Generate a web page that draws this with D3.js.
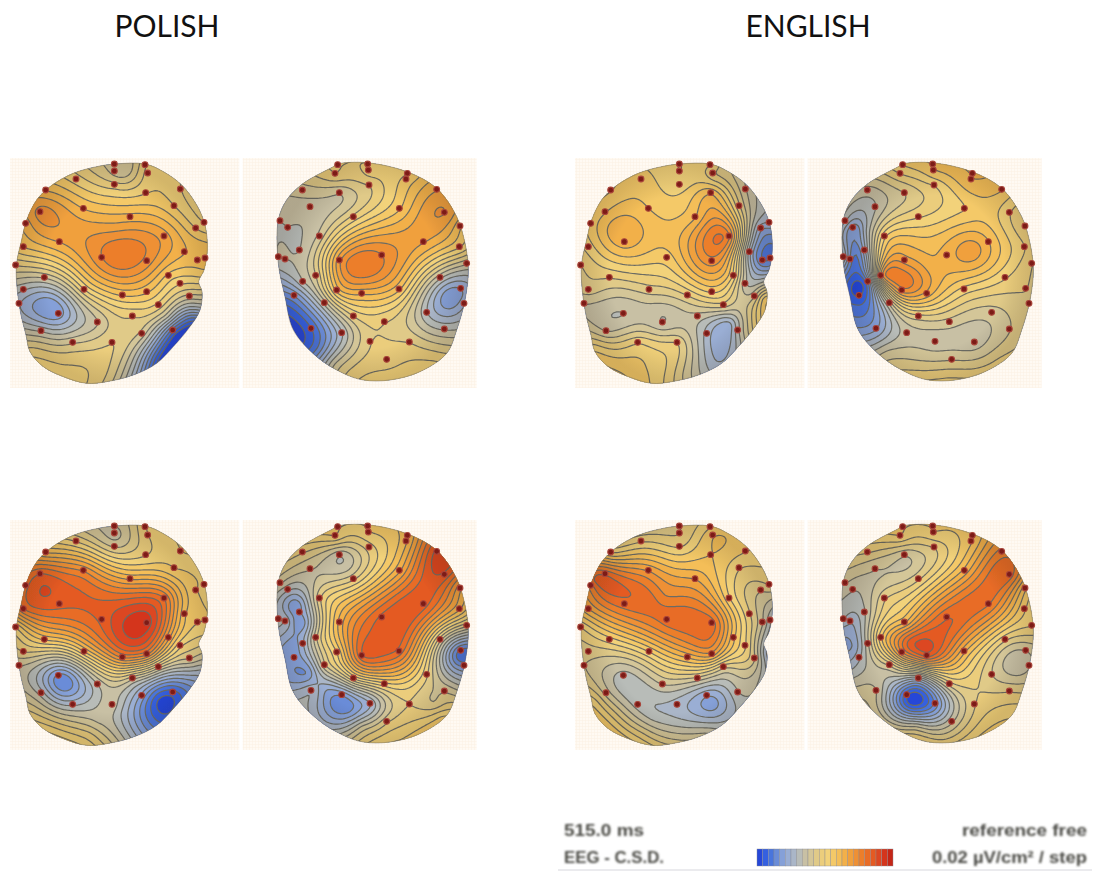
<!DOCTYPE html>
<meta charset="utf-8">
<script src="https://cdnjs.cloudflare.com/ajax/libs/d3/7.8.5/d3.min.js"></script>
<style>
body { margin: 0; background: #fff; }
</style>
<body>
<script>
// width and height
var w = 1098;
var h = 872;

// all head data is in "crop units": 490px of page = 1470 units
var cropW = 1470;
var cropH = 735;
var cellSize = 6;

// titles and footer text
var titles = ["POLISH", "ENGLISH"];
var footerLeft = ["515.0 ms", "EEG - C.S.D."];
var footerRight = ["reference free", "0.02 \u00b5V/cm\u00b2 / step"];

// one colour per step, blue (low) to red (high)
var stepColors = ["#2546d8", "#3560e0", "#4a74dc", "#6a8cd8", "#85a0d8", "#9aaed4", "#aab6c8", "#b8bcb8",
  "#c8c0a4", "#d4c698", "#e0ca88", "#ebcd7c", "#f2d27a", "#f4c968", "#f4be58", "#f2b04a",
  "#f0a03e", "#ee9034", "#ec7e2c", "#e86c26", "#e45a22", "#dc4620", "#d4341c", "#c42618"];

// scalp outlines
var leftOutline = [[345,42],[435,42],[490,65],[545,105],[590,165],[615,225],[622,300],[612,360],[596,395],[606,425],[600,480],[570,530],[520,590],[470,640],[400,675],[320,695],[260,700],[190,680],[130,650],[90,605],[78,555],[62,490],[50,400],[50,340],[65,270],[80,210],[110,150],[150,110],[220,70],[290,50]];
var rightOutline = [[1013,42],[1100,38],[1220,65],[1310,115],[1370,200],[1395,280],[1405,360],[1395,450],[1370,540],[1340,610],[1260,665],[1170,690],[1090,690],[1030,670],[950,620],[880,540],[855,440],[835,340],[835,210],[860,150],[910,100],[1000,50]];

// electrode sites
var leftSites = [[343,42],[435,44],[343,63],[443,69],[228,87],[343,103],[437,128],[541,117],[137,120],[522,167],[120,185],[250,175],[390,200],[77,220],[612,217],[587,234],[492,258],[178,275],[70,290],[553,305],[305,322],[440,332],[592,330],[615,324],[47,345],[505,376],[133,382],[540,400],[252,418],[367,435],[440,425],[70,418],[568,438],[57,460],[475,464],[175,490],[397,498],[292,516],[123,542],[425,550],[518,540],[218,577],[336,577]];
var rightSites = [[1013,44],[1103,42],[1005,70],[1105,60],[1222,70],[1107,105],[1218,87],[1018,128],[907,120],[1310,118],[930,170],[1198,175],[1333,187],[1060,200],[840,212],[863,232],[1380,228],[958,258],[1270,275],[1378,290],[898,300],[835,320],[855,327],[1018,330],[1145,315],[1400,340],[947,376],[908,394],[1320,382],[1010,420],[1085,430],[1197,417],[1382,415],[882,436],[973,458],[1392,460],[1060,498],[1280,487],[1153,515],[1333,537],[933,535],[1025,548],[1110,574],[1228,576],[1160,628]];

// step read at each electrode, same order as the sites
var polishA = [9.5,12,9.5,12.5,12.5,11.5,13,12,15,13,17.5,15,15.5,15.5,12,13,16.5,16,14,15,18,17.5,14.5,15,11,13.5,9,12,12,14,14,7,9.5,6,11.5,4.5,11,9,8,9.5,2,10,11];
var polishB = [12,12,12,12.5,13,11,13.5,9,9.5,16,8.5,14,17,11.5,8,8,14,9.5,16,13,8,8,8,17,18,9,10,8,8,14.5,15,14,5,4,8.5,6,11,7,11,8,2,7,11,11,11.5];
var englishA = [12,12,12,11,13.5,12.5,15,9,13,11,14,14,15,13.5,6,5,18,15.5,12.5,6,13.5,17.5,3,3,11,12.5,11,8,10.5,11,13,10.5,10,9,10.5,8,8.5,8,9,6.5,8,12,11];
var englishB = [13,14,12,14,15,12,15,10,8.5,14,8,13,12,12,7,4,11,13,15,12,6,7,3,16.5,15.5,11,17,3,12,17.5,15.5,12.5,11,1,9.5,11,10.5,9.5,9.5,10,5,8.5,8.5,8.5,10];
var polishC = [9,12,8.5,12,12,10,12,13,15,13,20.2,18,16,19.8,13,13,19,20.3,19,14,20.3,22.5,13,13,13,16,14,12,14,18,18,11,10,9,10,3.5,9,8,7.5,4.5,1.5,7,8.5];
var polishD = [13,13,13,13,15,11.5,15,8,11,21.5,9,16,20.6,11,9,7,16,11,20.4,15,5,7,7,15.5,20.4,10,10,6,10,13,20,19.5,2.5,4.5,10,4,12,11,12.5,10,7,4,6,11,11];
var englishC = [11,13,11,14,12,12,14,13,13,12,19.9,17,16,18.5,11,10,13,19.5,16,11,19.5,19.5,9,7,12,14,12.5,12,13,15,16.5,10.5,10,10,10,7.5,9.5,9,9.5,5,8,7.5,6.5];
var englishD = [13,13,13,13,14,11,14,9,11,18.5,9,15.5,19.5,11,9,8,14,11,19,13,8,7,6,15,20,12,14,9,11,18,20.3,15,9,7,10,9,6,10,10.5,11,9,1,3.5,11,9];

// extra readings between the electrodes: peaks, troughs, bottom of the scalp [x, y, step]
var polishAExtra = [[140,465,4],[355,310,19],[520,570,0],[470,630,1],[250,650,12],[180,640,12],[100,590,11],[400,650,7],[340,680,10],[600,470,7],[500,500,8],[570,500,3],[370,55,9],[340,230,16.5]];
var polishBExtra = [[1095,340,19],[1350,440,4],[905,500,2],[950,590,3],[1000,640,9],[1080,680,12],[1300,630,12]];
var englishAExtra = [[150,235,15.7],[455,280,19],[470,560,5],[490,520,5.5],[450,630,6],[380,620,9],[150,620,13],[240,650,13],[90,590,12.5],[300,650,12],[350,670,10],[590,440,13],[250,480,8.5]];
var englishBExtra = [[985,370,18.5],[1215,300,16.7],[1100,340,15.2],[1150,680,12],[1300,620,11],[960,600,9],[860,370,2],[870,460,2],[900,240,7],[870,300,3],[930,400,8],[930,300,11],[920,340,9]];
var polishCExtra = [[420,340,22.5],[380,310,22],[200,235,20.3],[300,280,20.3],[190,510,3],[480,565,0.5],[430,640,4],[350,680,9],[270,660,11],[150,640,12],[290,630,9],[600,470,7],[560,590,3],[360,600,7],[100,600,11]];
var polishDExtra = [[1130,380,20.4],[1200,270,20.4],[1320,130,22],[1040,590,3.5],[1080,640,9],[1200,680,13],[1320,610,13],[1380,430,2],[885,280,4],[900,330,4],[880,400,4.5],[920,480,4],[1300,570,10],[975,530,5]];
var englishCExtra = [[90,200,20.5],[440,575,4.5],[260,610,7.5],[150,600,11],[230,660,11],[90,560,12],[420,660,9],[600,420,6],[300,250,18],[250,260,19.5],[350,300,19.5],[400,340,19.5]];
var englishDExtra = [[1100,380,20.8],[1030,385,20.3],[1200,250,19],[1035,560,0],[860,400,5],[1050,640,9],[1250,660,13],[1000,500,7],[1360,450,8],[1130,680,11]];

var panelTop = [24, 714];
var leftBox = [30, 718];
var rightBox = [728, 1430];

// page position of each quadrant
var quadrants = [[0, 150], [565, 150], [0, 512], [565, 512]];

var heads = [
  {q: 0, side: "left", values: polishA, extra: polishAExtra},
  {q: 0, side: "right", values: polishB, extra: polishBExtra},
  {q: 1, side: "left", values: englishA, extra: englishAExtra},
  {q: 1, side: "right", values: englishB, extra: englishBExtra},
  {q: 2, side: "left", values: polishC, extra: polishCExtra},
  {q: 2, side: "right", values: polishD, extra: polishDExtra},
  {q: 3, side: "left", values: englishC, extra: englishCExtra},
  {q: 3, side: "right", values: englishD, extra: englishDExtra}
];

var svg = d3.select("body").append("svg")
  .attr("width", w)
  .attr("height", h)
  .style("display", "block");

var defs = svg.append("defs");

// the source picture is soft, so blur everything a touch
defs.append("filter").attr("id", "soft")
  .attr("x", "-5%").attr("y", "-5%").attr("width", "110%").attr("height", "110%")
  .append("feGaussianBlur").attr("stdDeviation", 0.5);

defs.append("filter").attr("id", "softer")
  .attr("x", "-5%").attr("y", "-5%").attr("width", "110%").attr("height", "110%")
  .append("feGaussianBlur").attr("stdDeviation", 0.8);

var pattern = defs.append("pattern").attr("id", "paper")
  .attr("width", 3).attr("height", 3).attr("patternUnits", "userSpaceOnUse");
pattern.append("rect").attr("width", 3).attr("height", 3).attr("fill", "#fffaf3");
pattern.append("path").attr("d", "M3 0H0V3").attr("fill", "none").attr("stroke", "#fcf1e4").attr("stroke-width", 1);

var shade = defs.append("radialGradient").attr("id", "shade");
shade.append("stop").attr("offset", "70%").attr("stop-color", "#000").attr("stop-opacity", 0);
shade.append("stop").attr("offset", "100%").attr("stop-color", "#302010").attr("stop-opacity", 0.16);

// thin plate spline through the readings, returns f(x, y)
function makeField(points) {
  var n = points.length, size = n + 3;
  var A = d3.range(size).map(function() { return new Float64Array(size + 1); });
  function kernel(r2) { return r2 < 1e-9 ? 0 : 0.5 * r2 * Math.log(r2); }
  var pts = points.map(function(p) { return [p[0] / 500, p[1] / 500, p[2]]; });
  for (var i = 0; i < n; i++) {
    for (var j = 0; j < n; j++) {
      var dx = pts[i][0] - pts[j][0], dy = pts[i][1] - pts[j][1];
      A[i][j] = kernel(dx * dx + dy * dy) + (i == j ? 0.0008 : 0);
    }
    A[i][n] = 1; A[i][n + 1] = pts[i][0]; A[i][n + 2] = pts[i][1];
    A[n][i] = 1; A[n + 1][i] = pts[i][0]; A[n + 2][i] = pts[i][1];
    A[i][size] = pts[i][2];
  }
  // gaussian elimination
  for (var c = 0; c < size; c++) {
    var best = c;
    for (var r = c + 1; r < size; r++) if (Math.abs(A[r][c]) > Math.abs(A[best][c])) best = r;
    var tmp = A[c]; A[c] = A[best]; A[best] = tmp;
    for (var r2 = 0; r2 < size; r2++) {
      if (r2 == c) continue;
      var f = A[r2][c] / A[c][c];
      if (f == 0) continue;
      for (var k = c; k <= size; k++) A[r2][k] -= f * A[c][k];
    }
  }
  var sol = A.map(function(row, idx) { return row[size] / row[idx]; });
  return function(x, y) {
    x /= 500; y /= 500;
    var v = sol[n] + sol[n + 1] * x + sol[n + 2] * y;
    for (var i = 0; i < n; i++) {
      var dx = x - pts[i][0], dy = y - pts[i][1];
      v += sol[i] * kernel(dx * dx + dy * dy);
    }
    return v;
  };
}

var levels = d3.range(0, stepColors.length);
var levelColor = d3.scaleOrdinal().domain(levels).range(stepColors);

heads.forEach(function(head, idx) {
  var origin = quadrants[head.q];
  var xScale = d3.scaleLinear().domain([0, cropW]).range([origin[0], origin[0] + cropW / 3]);
  var yScale = d3.scaleLinear().domain([0, cropH]).range([origin[1], origin[1] + cropH / 3]);

  var isLeft = head.side == "left";
  var sites = isLeft ? leftSites : rightSites;
  var outline = isLeft ? leftOutline : rightOutline;
  var box = isLeft ? leftBox : rightBox;

  // paper goes outside the blur so its grid stays visible
  svg.append("rect")
    .attr("x", xScale(box[0])).attr("y", yScale(panelTop[0]))
    .attr("width", xScale(box[1]) - xScale(box[0]))
    .attr("height", yScale(panelTop[1]) - yScale(panelTop[0]))
    .attr("fill", "url(#paper)");

  var g = svg.append("g").attr("filter", "url(#soft)");

  var outlinePath = d3.line()
    .x(function(d) { return xScale(d[0]); })
    .y(function(d) { return yScale(d[1]); })
    .curve(d3.curveCatmullRomClosed.alpha(0.5))(outline);

  var clipId = "clip" + idx;
  defs.append("clipPath").attr("id", clipId).append("path").attr("d", outlinePath);

  // sample the readings on a grid and contour them
  var readings = sites.map(function(s, i) { return [s[0], s[1], head.values[i]]; }).concat(head.extra);
  var field = makeField(readings);
  var x0 = d3.min(outline, function(d) { return d[0]; }) - 12;
  var x1 = d3.max(outline, function(d) { return d[0]; }) + 12;
  var y0 = d3.min(outline, function(d) { return d[1]; }) - 12;
  var y1 = d3.max(outline, function(d) { return d[1]; }) + 12;
  var nx = Math.ceil((x1 - x0) / cellSize), ny = Math.ceil((y1 - y0) / cellSize);
  var grid = new Float64Array(nx * ny);
  for (var j = 0; j < ny; j++) {
    for (var i = 0; i < nx; i++) {
      grid[j * nx + i] = field(x0 + i * cellSize, y0 + j * cellSize);
    }
  }

  var contours = d3.contours().size([nx, ny]).thresholds(levels.slice(1))(grid);
  var path = d3.geoPath(d3.geoTransform({
    point: function(x, y) {
      this.stream.point(xScale(x0 + x * cellSize), yScale(y0 + y * cellSize));
    }
  }));

  var body = g.append("g").attr("clip-path", "url(#" + clipId + ")");
  body.append("path").attr("d", outlinePath).attr("fill", stepColors[0]);
  body.selectAll("path.band").data(contours).enter().append("path")
    .attr("class", "band")
    .attr("d", path)
    .attr("fill", function(d) { return levelColor(d.value); })
    .attr("stroke", "#6c6c64")
    .attr("stroke-width", 1.2);
  body.append("path").attr("d", outlinePath).attr("fill", "url(#shade)");

  g.append("path").attr("d", outlinePath).attr("fill", "none")
    .attr("stroke", "#6a6458").attr("stroke-width", 0.8).attr("stroke-opacity", 0.6);

  g.selectAll("circle").data(sites).enter().append("circle")
    .attr("cx", function(d) { return xScale(d[0]); })
    .attr("cy", function(d) { return yScale(d[1]); })
    .attr("r", 2.9)
    .attr("fill", "#7c1a18")
    .attr("stroke", "#a8453a")
    .attr("stroke-width", 1.1);
});

// titles
svg.selectAll("text.title").data(titles).enter().append("text")
  .attr("class", "title")
  .attr("x", function(d, i) { return i == 0 ? 167 : 808; })
  .attr("y", 37)
  .attr("text-anchor", "middle")
  .style("font-family", "Lato, sans-serif")
  .style("font-size", "30px")
  .style("fill", "#111")
  .text(function(d) { return d; });

// footer
var footer = svg.append("g").attr("filter", "url(#softer)")
  .style("font-family", "'Liberation Sans', Arial, sans-serif")
  .style("font-size", "16.5px")
  .style("font-weight", "bold")
  .style("fill", "#4a4a44");

footer.selectAll("text.fl").data(footerLeft).enter().append("text")
  .attr("class", "fl")
  .attr("x", 564)
  .attr("y", function(d, i) { return 836 + i * 27; })
  .attr("textLength", function(d, i) { return i == 0 ? 80 : 100; })
  .attr("lengthAdjust", "spacingAndGlyphs")
  .text(function(d) { return d; });

footer.selectAll("text.fr").data(footerRight).enter().append("text")
  .attr("class", "fr")
  .attr("x", 1087)
  .attr("y", function(d, i) { return 836 + i * 27; })
  .attr("text-anchor", "end")
  .attr("textLength", function(d, i) { return i == 0 ? 125 : 155; })
  .attr("lengthAdjust", "spacingAndGlyphs")
  .text(function(d) { return d; });

// colour bar
var barScale = d3.scaleBand().domain(levels).range([757, 893]);
svg.append("g").attr("filter", "url(#soft)")
  .selectAll("rect").data(levels).enter().append("rect")
  .attr("x", function(d) { return barScale(d); })
  .attr("y", 849)
  .attr("width", barScale.bandwidth())
  .attr("height", 17)
  .attr("fill", function(d) { return levelColor(d); })
  .attr("stroke", "#8a8a90")
  .attr("stroke-width", 0.4);

svg.append("line")
  .attr("x1", 558).attr("x2", 1092)
  .attr("y1", 870).attr("y2", 870)
  .attr("stroke", "#e4e4e8")
  .attr("stroke-width", 1.5);
</script>
</body>
</html>
